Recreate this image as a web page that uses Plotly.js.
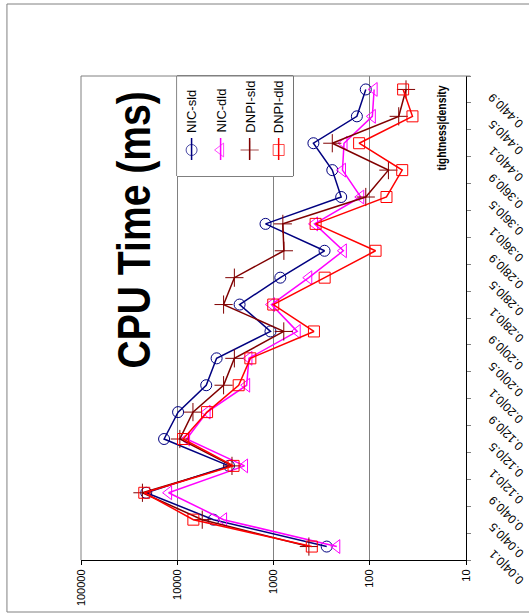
<!DOCTYPE html>
<html>
<head>
<meta charset="utf-8">
<script src="https://cdn.plot.ly/plotly-3.0.1.min.js"></script>
<style>html,body{margin:0;padding:0;background:#fff;}#chart{width:529px;height:615px;}</style>
</head>
<body>
<div id="chart"></div>
<script>
// categories: tightness|density (bottom to top in the rotated picture)
const categories = ['0.04|0.1','0.04|0.5','0.04|0.9','0.12|0.1','0.12|0.5','0.12|0.9',
  '0.20|0.1','0.20|0.5','0.20|0.9','0.28|0.1','0.28|0.5','0.28|0.9',
  '0.36|0.1','0.36|0.5','0.36|0.9','0.44|0.1','0.44|0.5','0.44|0.9'];
// CPU time (ms)
const nicSld  = [280, 4200, 21000, 2900, 13700, 9800, 5000, 3900, 1075, 2250, 850, 295, 1210, 198, 245, 385, 136, 110];
const nicDld  = [220, 3300, 12300, 2000, 8000, 4900, 1900, 1800, 567, 1050, 430, 188, 375, 124, 192, 185, 94, 90];
const dnpiSld = [429, 5500, 23000, 2700, 9400, 6870, 3300, 2550, 782, 3300, 2550, 780, 800, 110, 64, 245, 50, 42];
const dnpiDld = [400, 6800, 22000, 2600, 8700, 4900, 2300, 1740, 380, 1006, 294, 87, 365, 67, 46, 129, 36, 45];
const seriesNames = ['NIC-sld','NIC-dld','DNPI-sld','DNPI-dld'];
const valueTicks = [100000, 10000, 1000, 100, 10];
const valueTickText = ['100000','10000','1000','100','10'];
const titleText = 'CPU Time (ms)';
const catTitle = 'tightness|density';

const seriesValues = [nicSld, nicDld, dnpiSld, dnpiDld];
const colors = ['#000080', '#FF00FF', '#800000', '#FF0000'];
const symbols = ['circle-open', 'triangle-left-open', 'cross-thin-open', 'square-open'];
const sizes = [11, 12, 13, 11];

const traces = [];
seriesValues.forEach((vals, i) => {
  traces.push({
    type: 'scatter', mode: 'lines+markers',
    x: vals, y: categories, name: seriesNames[i],
    line: {color: colors[i], width: 1.5},
    marker: {symbol: symbols[i], size: sizes[i], color: colors[i], line: {color: colors[i], width: 1}},
    showlegend: false, xaxis: 'x', yaxis: 'y'
  });
});
// hand-made rotated legend samples
seriesNames.forEach((nm, i) => {
  traces.push({
    type: 'scatter', mode: 'lines+markers',
    x: [nm, nm, nm], y: [0.16, 0.26, 0.38],
    line: {color: colors[i], width: 1.5},
    marker: {symbol: symbols[i], size: [0, sizes[i], 0], color: colors[i], line: {color: colors[i], width: 1}},
    showlegend: false, xaxis: 'x2', yaxis: 'y2', hoverinfo: 'skip'
  });
});

const FONT = 'Liberation Sans, Arial, sans-serif';
const annotations = [
  {text: '<b>' + titleText + '</b>', xref: 'paper', yref: 'paper', x: (134 - 81) / 384.7, y: (560 - 230) / 484,
   xanchor: 'center', yanchor: 'middle',
   textangle: -90, showarrow: false, font: {family: FONT, size: 46, color: '#000'}},
  {text: '<b>' + catTitle + '</b>', xref: 'paper', yref: 'paper', x: (441 - 81) / 384.7, y: (560 - 127.5) / 484,
   xanchor: 'center', yanchor: 'middle',
   textangle: -90, showarrow: false, font: {family: FONT, size: 12.6, color: '#000'}}
];
const condense = [0.85, 0.82]; // horizontal squeeze of the two bold, narrow-looking titles
seriesNames.forEach((nm) => {
  annotations.push({text: nm, xref: 'x2', yref: 'y2', x: nm, y: 0.41, xanchor: 'center', yanchor: 'bottom',
    textangle: -90, showarrow: false, font: {family: FONT, size: 13, color: '#000'}});
});
// category tick labels (rotated like the picture)
categories.forEach((c) => {
  annotations.push({text: c, xref: 'paper', yref: 'y', x: (483 - 81) / 384.7, y: c,
    xanchor: 'left', yanchor: 'top', yshift: 2, textangle: -135, showarrow: false,
    font: {family: FONT, size: 12, color: '#000'}});
});

const layout = {
  width: 529, height: 615,
  margin: {l: 81, r: 63.3, t: 76, b: 55, pad: 0},
  paper_bgcolor: '#fff', plot_bgcolor: '#fff',
  showlegend: false,
  xaxis: {
    type: 'log', range: [5, 1], autorange: false,
    tickvals: valueTicks, ticktext: valueTickText, tickangle: -90,
    showgrid: true, gridcolor: '#808080', gridwidth: 1,
    showline: true, linecolor: '#000', linewidth: 1,
    ticks: 'outside', ticklen: 4, tickcolor: '#000',
    tickfont: {family: FONT, size: 11, color: '#000'},
    zeroline: false, fixedrange: true
  },
  yaxis: {
    type: 'category', categoryorder: 'array', categoryarray: categories,
    range: [-0.5, categories.length - 0.5], autorange: false,
    side: 'right', showgrid: false, showticklabels: false,
    showline: true, linecolor: '#000', linewidth: 1,
    ticks: 'outside', tickson: 'boundaries', ticklen: 4, tickcolor: '#808080',
    zeroline: false, fixedrange: true
  },
  xaxis2: {domain: [(177 - 81) / 384.7, (293 - 81) / 384.7], anchor: 'y2', type: 'category',
    categoryorder: 'array', categoryarray: seriesNames,
    range: [-0.5, 3.5], visible: false, fixedrange: true},
  yaxis2: {domain: [(560 - 176) / 484, 1], anchor: 'x2', range: [0, 1], visible: false, fixedrange: true},
  shapes: [
    // outer chart frame
    {type: 'rect', xref: 'paper', yref: 'paper', x0: (7 - 81) / 384.7, x1: 1.3, y0: (560 - 612) / 484, y1: (560 - 4) / 484,
     line: {color: '#808080', width: 1}, fillcolor: 'rgba(0,0,0,0)', layer: 'below'},
    // plot area top and left borders (gray)
    {type: 'line', xref: 'paper', yref: 'paper', x0: 0, x1: (470 - 81) / 384.7, y0: 1, y1: 1, line: {color: '#808080', width: 1}},
    {type: 'line', xref: 'paper', yref: 'paper', x0: 0, x1: 0, y0: 0, y1: 1, line: {color: '#808080', width: 1}},
    // legend box (in legend subplot, below its samples)
    {type: 'rect', xref: 'x2 domain', yref: 'y2 domain', x0: 0, x1: 1, y0: 0, y1: 1,
     line: {color: '#000', width: 1}, fillcolor: '#fff', layer: 'below'}
  ],
  annotations: annotations
};

Plotly.newPlot('chart', traces, layout, {displayModeBar: false, staticPlot: true}).then((gd) => {
  condense.forEach((sx, idx) => {
    const txt = gd.querySelector('.annotation[data-index="' + idx + '"] text.annotation-text');
    if (!txt) return;
    const bb = txt.getBBox();
    const cx = bb.x + bb.width / 2, cy = bb.y + bb.height / 2;
    const prev = txt.getAttribute('transform') || '';
    txt.setAttribute('transform', prev + ' translate(' + cx + ',' + cy + ') scale(' + sx + ',1) translate(' + (-cx) + ',' + (-cy) + ')');
  });
});
</script>
</body>
</html>
